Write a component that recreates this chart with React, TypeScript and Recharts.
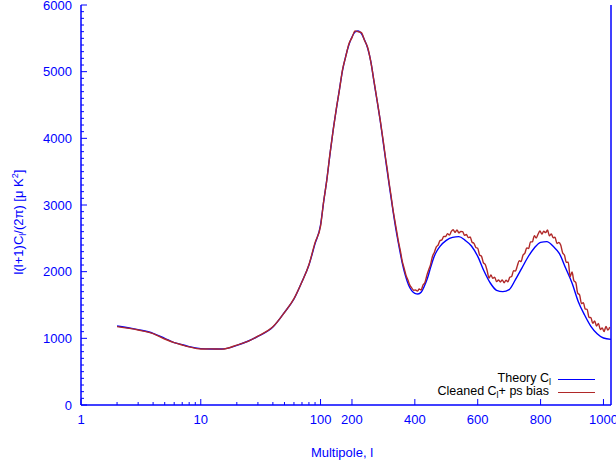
import { LineChart, Line, XAxis, YAxis, ReferenceLine } from "recharts";

const BLUE = "#0000ff";
const RED = "#b02828";
const FONT = "'Liberation Sans', Arial, Helvetica, sans-serif";

// theory C_l
const theoryEll = [
  2, 3, 4, 5, 6, 7, 8, 10, 12, 15, 20, 25, 30, 40, 50, 60, 70, 80, 90, 100,
  110, 120, 130, 140, 150, 160, 170, 180, 190, 200, 210, 220, 230, 240, 250, 260, 270, 280, 290, 300,
  310, 320, 330, 340, 350, 360, 370, 380, 390, 400, 410, 420, 430, 440, 450, 460, 470, 480, 500, 520,
  540, 560, 580, 600, 620, 640, 660, 680, 700, 720, 740, 760, 780, 800, 820, 840, 860, 880, 900, 920,
  940, 960, 980, 1000, 1024,
];
const theoryVal = [
  1185, 1130, 1075, 1000, 935, 905, 875, 845, 840, 840, 895, 960, 1030, 1170, 1390, 1590, 1850, 2100, 2420, 2700,
  3050, 3380, 3760, 4120, 4430, 4730, 5020, 5230, 5400, 5520, 5595, 5610, 5570, 5475, 5350, 5150, 4850, 4560, 4260, 3920,
  3580, 3250, 2930, 2630, 2370, 2130, 1940, 1800, 1715, 1675, 1665, 1690, 1780, 1900, 2060, 2210, 2310, 2380, 2470, 2515,
  2525, 2470, 2385, 2230, 2010, 1830, 1720, 1700, 1730, 1880, 2050, 2220, 2355, 2440, 2450, 2380, 2270, 2050, 1830, 1550,
  1350, 1180, 1070, 1005, 985,
];

// cleaned C_l + point-source bias
const cleanedEll = [
  2, 3, 4, 5, 6, 7, 8, 10, 12, 15, 20, 25, 30, 40, 50, 60, 70, 80, 90, 100,
  110, 120, 130, 140, 150, 160, 170, 180, 190, 200, 210, 220, 230, 240, 250, 260, 270, 280, 290,
  300, 306, 312, 318, 324, 330, 336, 342, 348, 354, 360, 366, 372, 378, 384, 390, 396,
  402, 408, 414, 420, 426, 432, 438, 444, 450, 456, 462, 468, 474, 480, 486, 492, 498,
  504, 510, 516, 522, 528, 534, 540, 546, 552, 558, 564, 570, 576, 582, 588, 594, 600,
  606, 612, 618, 624, 630, 636, 642, 648, 654, 660, 666, 672, 678, 684, 690, 696,
  702, 708, 714, 720, 726, 732, 738, 744, 750, 756, 762, 768, 774, 780, 786, 792, 798,
  804, 810, 816, 822, 828, 834, 840, 846, 852, 858, 864, 870, 876, 882, 888, 894, 900,
  906, 912, 918, 924, 930, 936, 942, 948, 954, 960, 966, 972, 978, 984, 990, 996,
  1002, 1008, 1014, 1020,
];
const cleanedVal = [
  1175, 1125, 1070, 990, 935, 900, 872, 840, 842, 838, 898, 958, 1032, 1172, 1388, 1595, 1848, 2104, 2436, 2684,
  3056, 3374, 3768, 4115, 4438, 4722, 5031, 5222, 5412, 5510, 5612, 5598, 5585, 5468, 5362, 5146, 4862, 4570, 4268,
  3943, 3731, 3545, 3336, 3150, 2945, 2776, 2611, 2446, 2312, 2154, 2050, 1943, 1874, 1798, 1757, 1722,
  1726, 1708, 1739, 1726, 1800, 1837, 1941, 2026, 2106, 2228, 2289, 2369, 2398, 2466, 2477, 2529, 2528,
  2571, 2549, 2603, 2628, 2590, 2627, 2582, 2602, 2601, 2546, 2558, 2511, 2520, 2442, 2425, 2363, 2351,
  2250, 2231, 2136, 2107, 2015, 1904, 1952, 1899, 1917, 1850, 1875, 1846, 1877, 1834, 1871, 1849,
  1915, 1928, 2016, 2009, 2087, 2166, 2152, 2247, 2277, 2356, 2347, 2447, 2448, 2540, 2506, 2563, 2609,
  2563, 2606, 2585, 2624, 2539, 2566, 2509, 2516, 2423, 2438, 2399, 2285, 2247, 2140, 2141, 1926, 1994,
  1863, 1835, 1678, 1652, 1523, 1535, 1440, 1435, 1316, 1310, 1225, 1260, 1185, 1224, 1133, 1156,
  1103, 1178, 1123, 1168,
];

const majorEll = [1, 10, 100, 200, 400, 600, 800, 1000];
const minorEll = [2, 3, 4, 5, 6, 7, 8, 9, 20, 30, 40, 50, 60, 70, 80, 90];
const yMajor = [0, 1000, 2000, 3000, 4000, 5000, 6000];
const yStep = 100;
const ELL_MAX = 1024;

// gnuplot-style axis: log up to l=100, linear above
const toT = (l: number) => (l <= 100 ? Math.log10(l) : 2 + (l - 100) / 381);

const theoryData = theoryEll.map((l, i) => ({ t: toT(l), v: theoryVal[i] }));
const cleanedData = cleanedEll.map((l, i) => ({ t: toT(l), v: cleanedVal[i] }));

const xTicks = [
  ...majorEll.map((l) => ({ l, major: true })),
  ...minorEll.map((l) => ({ l, major: false })),
].sort((a, b) => a.l - b.l);
const yTicks: number[] = [];
for (let v = 0; v <= 6000; v += yStep) yTicks.push(v);

const BottomTick = (props: any) => {
  const { x, y, index } = props;
  const tk = xTicks[index];
  if (!tk) return null;
  const len = tk.major ? 6 : 3;
  return (
    <g>
      <line x1={x} x2={x} y1={y} y2={y - len} stroke={BLUE} strokeWidth={1} />
      {tk.major && (
        <text x={x} y={y + 19} textAnchor="middle" fontSize={13} fill={BLUE} fontFamily={FONT}>
          {tk.l}
        </text>
      )}
    </g>
  );
};

const TopTick = (props: any) => {
  const { x, y, index } = props;
  const tk = xTicks[index];
  if (!tk) return null;
  const len = tk.major ? 6 : 3;
  return <line x1={x} x2={x} y1={y} y2={y + len} stroke={BLUE} strokeWidth={1} />;
};

const LeftTick = (props: any) => {
  const { x, y, payload } = props;
  const major = yMajor.includes(payload.value);
  const len = major ? 6 : 3;
  return (
    <g>
      <line x1={x} x2={x + len} y1={y} y2={y} stroke={BLUE} strokeWidth={1} />
      {major && (
        <text x={x - 9} y={y + 4.5} textAnchor="end" fontSize={13} fill={BLUE} fontFamily={FONT}>
          {payload.value}
        </text>
      )}
    </g>
  );
};

export default function App() {
  const tMax = toT(ELL_MAX);
  const tickTs = xTicks.map((tk) => toT(tk.l));
  return (
    <div style={{ position: "absolute", left: 0, top: 0, width: 616, height: 468, background: "#fff" }}>
      <LineChart width={616} height={468} margin={{ top: 5, right: 5, bottom: 33, left: 0 }}>
        <XAxis
          xAxisId="b"
          type="number"
          dataKey="t"
          domain={[0, tMax]}
          ticks={tickTs}
          interval={0}
          allowDataOverflow
          height={30}
          tickSize={0}
          tickMargin={0}
          tickLine={false}
          axisLine={{ stroke: BLUE, strokeWidth: 1.5 }}
          tick={<BottomTick />}
        />
        <XAxis
          xAxisId="top"
          orientation="top"
          type="number"
          dataKey="t"
          domain={[0, tMax]}
          ticks={tickTs}
          interval={0}
          allowDataOverflow
          height={0}
          tickSize={0}
          tickMargin={0}
          tickLine={false}
          axisLine={{ stroke: BLUE, strokeWidth: 1.5 }}
          tick={<TopTick />}
        />
        <YAxis
          type="number"
          domain={[0, 6000]}
          ticks={yTicks}
          interval={0}
          width={81}
          tickSize={0}
          tickMargin={0}
          tickLine={false}
          axisLine={{ stroke: BLUE, strokeWidth: 1.5 }}
          tick={<LeftTick />}
        />
        <ReferenceLine xAxisId="b" x={tMax} stroke={BLUE} strokeWidth={1.5} />
        <Line
          xAxisId="b"
          data={theoryData}
          dataKey="v"
          type="monotone"
          stroke={BLUE}
          strokeWidth={1.4}
          dot={false}
          isAnimationActive={false}
        />
        <Line
          xAxisId="b"
          data={cleanedData}
          dataKey="v"
          type="monotone"
          stroke={RED}
          strokeWidth={1.4}
          dot={false}
          isAnimationActive={false}
        />
      </LineChart>
      <svg
        width={616}
        height={468}
        style={{ position: "absolute", left: 0, top: 0, pointerEvents: "none" }}
        fontFamily={FONT}
        fontSize={13}
        fill={BLUE}
      >
        <text x={342} y={457} textAnchor="middle">
          Multipole, l
        </text>
        <text x={23} y={222} textAnchor="middle" transform="rotate(-90 23 222)">
          l(l+1)C
          <tspan dy={3} fontSize={9}>l</tspan>
          <tspan dy={-3}>/(2π) [μ K</tspan>
          <tspan dy={-5} fontSize={9}>2</tspan>
          <tspan dy={5}>]</tspan>
        </text>
        <text x={551} y={382} textAnchor="end" fill="#000" fontSize={12.5}>
          Theory C<tspan dy={3} fontSize={9}>l</tspan>
        </text>
        <line x1={558} x2={595} y1={379.5} y2={379.5} stroke={BLUE} strokeWidth={1.2} />
        <text x={549} y={395} textAnchor="end" fill="#000" fontSize={12.5}>
          Cleaned C<tspan dy={3} fontSize={9}>l</tspan>
          <tspan dy={-3}>+ ps bias</tspan>
        </text>
        <line x1={558} x2={595} y1={392.5} y2={392.5} stroke={RED} strokeWidth={1.2} />
      </svg>
    </div>
  );
}
